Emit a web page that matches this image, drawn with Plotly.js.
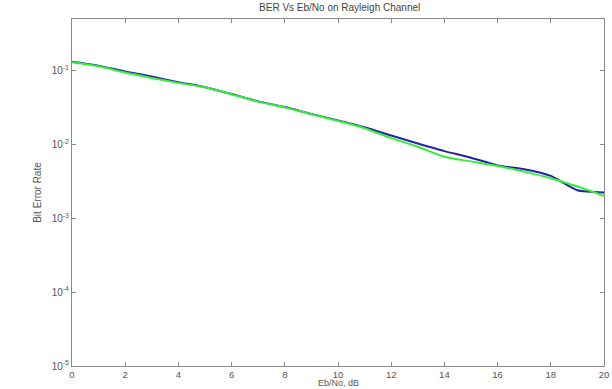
<!DOCTYPE html>
<html>
<head>
<meta charset="utf-8">
<script src="https://cdn.plot.ly/plotly-3.0.1.min.js"></script>
<style>html,body{margin:0;padding:0;background:#fff;}#chart{width:612px;height:389px;}</style>
</head>
<body>
<div id="chart"></div>
<script>
const ebno = [0,1,2,3,4,5,6,7,8,9,10,11,12,13,14,15,16,17,18,19,20];
const berBlue = [0.1321,0.1167,0.0971,0.0830,0.0697,0.0597,0.0481,0.0383,0.0321,0.0259,0.0212,0.0171,0.0132,0.0103,0.00813,0.00662,0.00521,0.00461,0.00375,0.00240,0.00224];
const berGreen = [0.1294,0.1143,0.0940,0.0796,0.0682,0.0594,0.0479,0.0380,0.0318,0.0257,0.0208,0.0166,0.0122,0.00931,0.00682,0.00590,0.00512,0.00429,0.00349,0.00269,0.00202];
const yTickVals = [1e-5,1e-4,1e-3,1e-2,1e-1];
const yTickText = ['10<sup>-5</sup>','10<sup>-4</sup>','10<sup>-3</sup>','10<sup>-2</sup>','10<sup>-1</sup>'];
const xTickVals = [0,2,4,6,8,10,12,14,16,18,20];
const decades = [1e-5,1e-4,1e-3,1e-2,1e-1];
const mults = [2,3,4,5,6,7,8,9];

const minorVals = [];
decades.forEach(d => mults.forEach(m => { const v = d*m; if (v <= 0.5) minorVals.push(v); }));

const axisColor = '#8a8a8a';
const textColor = '#555555';
const font = {family: 'Liberation Sans, Arial, sans-serif', size: 10, color: textColor};
const xFont = {family: 'Liberation Sans, Arial, sans-serif', size: 9.5, color: textColor};
const yr = [-5, Math.log10(0.5)];

const traces = [
  {x: ebno, y: berBlue, mode: 'lines', line: {color: '#2222a8', width: 2, shape: 'spline', smoothing: 0.6}, hoverinfo: 'skip'},
  {x: ebno, y: berGreen, mode: 'lines', line: {color: '#33ee33', width: 2, shape: 'spline', smoothing: 0.6}, hoverinfo: 'skip'}
];

const layout = {
  width: 612, height: 389,
  margin: {l: 72, r: 8, t: 19, b: 23},
  paper_bgcolor: '#ffffff', plot_bgcolor: '#ffffff',
  showlegend: false,
  font: font,
  title: {text: 'BER Vs Eb/No on Rayleigh Channel', font: {family: 'Liberation Sans, Arial, sans-serif', size: 10, color: '#444'}, x: 0.555, xanchor: 'center', y: 0.99, yanchor: 'top'},
  xaxis: {
    range: [0, 20], tickvals: xTickVals, ticks: 'inside', ticklen: 4, tickcolor: axisColor,
    showline: true, linecolor: axisColor, linewidth: 1, mirror: 'ticks', showgrid: false, zeroline: false,
    tickfont: xFont
  },
  yaxis: {
    type: 'log', range: yr, tickvals: yTickVals, ticktext: yTickText,
    ticks: 'inside', ticklen: 4, tickcolor: axisColor,
    showline: true, linecolor: axisColor, linewidth: 1, mirror: 'ticks', showgrid: false, zeroline: false,
    tickfont: font,
    title: {text: 'Bit Error Rate', font: font, standoff: 8}
  },
  yaxis2: {
    type: 'log', range: yr, overlaying: 'y', side: 'left', tickvals: minorVals,
    ticks: 'inside', ticklen: 2, tickcolor: axisColor,
    showline: true, linecolor: axisColor, linewidth: 1, mirror: 'ticks', showgrid: false, zeroline: false,
    showticklabels: false
  },
  annotations: [
    {text: 'Eb/No, dB', xref: 'paper', yref: 'paper', x: 0.5, y: -23/347, xanchor: 'center', yanchor: 'bottom',
     showarrow: false, borderpad: 0, font: {family: 'Liberation Sans, Arial, sans-serif', size: 9, color: textColor}}
  ]
};

Plotly.newPlot('chart', traces, layout, {staticPlot: true, displayModeBar: false});
</script>
</body>
</html>
